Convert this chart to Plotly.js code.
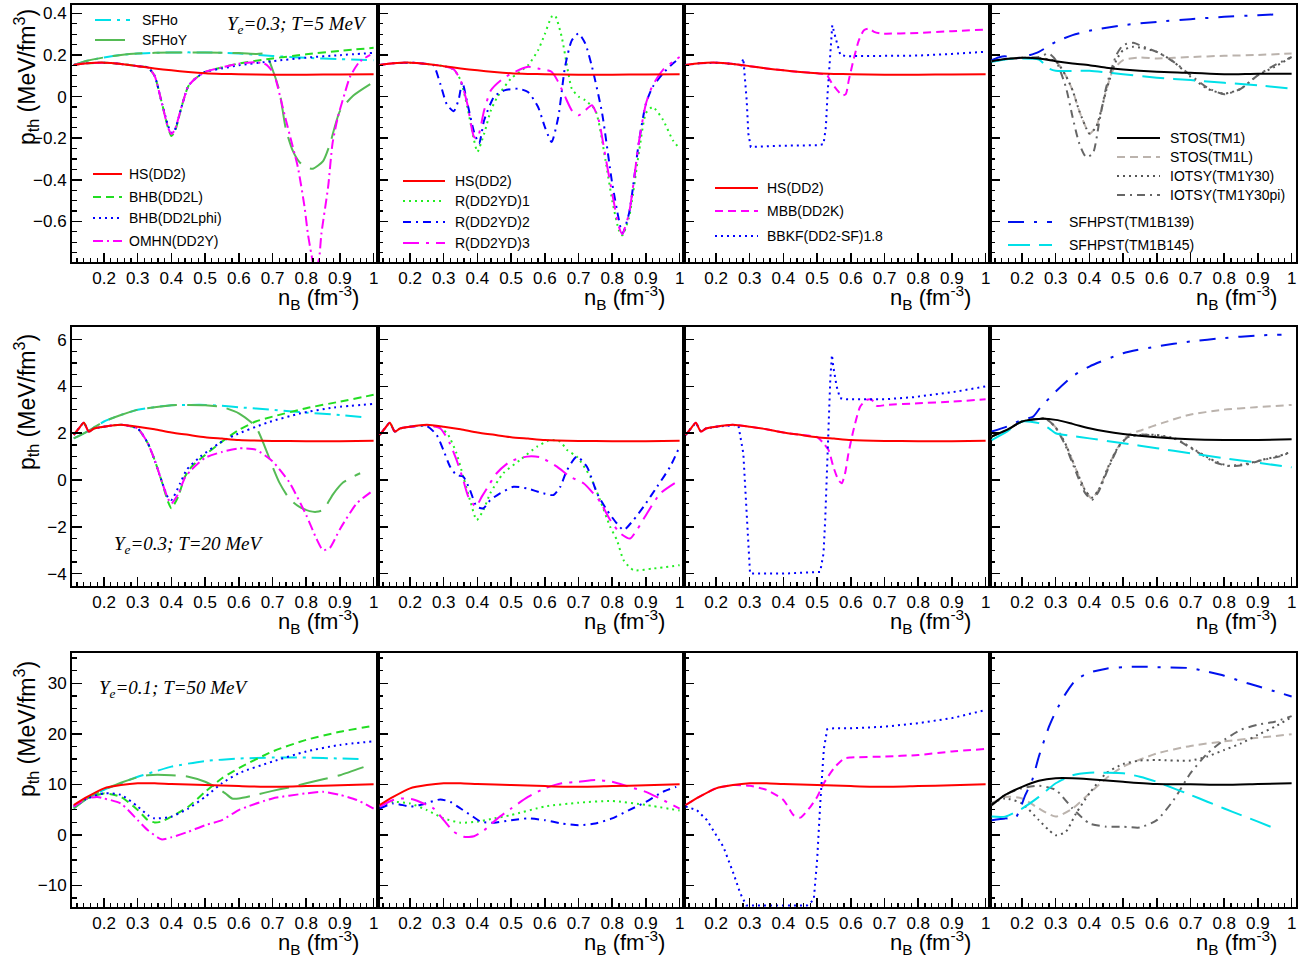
<!DOCTYPE html>
<html><head><meta charset="utf-8">
<script src="https://cdn.plot.ly/plotly-3.0.1.min.js"></script>
<style>html,body{margin:0;padding:0;background:#fff}#chart{width:1302px;height:965px}</style>
</head><body><div id="chart"></div>
<script>
// ================= DATA (nB in fm^-3, p_th in MeV/fm^3) =================
// ---- Row 1: Ye=0.3, T=5 MeV ----
const t5_HS_x = [0.11,0.15,0.2,0.25,0.3,0.35,0.4,0.45,0.5,0.55,0.6,0.7,0.8,0.9,1.0];
const t5_HS_y = [0.152,0.160,0.163,0.157,0.146,0.135,0.126,0.118,0.112,0.109,0.107,0.105,0.105,0.106,0.107];
const t5_BHBL_x = [0.11,0.15,0.2,0.25,0.3,0.33,0.35,0.37,0.39,0.40,0.41,0.43,0.45,0.47,0.5,0.55,0.6,0.7,0.8,0.9,1.0];
const t5_BHBL_y = [0.152,0.160,0.163,0.157,0.146,0.14,0.10,-0.02,-0.15,-0.19,-0.17,-0.05,0.05,0.085,0.118,0.14,0.159,0.183,0.203,0.22,0.234];
const t5_BHBLphi_x = [0.11,0.15,0.2,0.25,0.3,0.33,0.35,0.37,0.39,0.40,0.41,0.43,0.45,0.47,0.5,0.55,0.6,0.7,0.8,0.9,1.0];
const t5_BHBLphi_y = [0.152,0.160,0.163,0.157,0.146,0.14,0.10,-0.02,-0.14,-0.175,-0.16,-0.05,0.05,0.085,0.118,0.135,0.15,0.17,0.187,0.199,0.21];
const t5_OMHN_x = [0.11,0.15,0.2,0.25,0.3,0.33,0.35,0.37,0.39,0.40,0.41,0.43,0.45,0.47,0.5,0.55,0.6,0.65,0.68,0.70,0.71,0.73,0.75,0.775,0.795,0.805,0.815,0.826,0.838,0.845,0.865,0.878,0.894,0.914,0.93,0.958,0.99];
const t5_OMHN_y = [0.152,0.160,0.163,0.157,0.146,0.14,0.10,-0.02,-0.15,-0.18,-0.16,-0.05,0.05,0.085,0.118,0.14,0.158,0.165,0.155,0.12,0.08,-0.05,-0.178,-0.338,-0.53,-0.66,-0.755,-0.84,-0.78,-0.66,-0.434,-0.226,-0.098,0.014,0.095,0.167,0.2];
const t5_SFHo_x = [0.11,0.15,0.2,0.25,0.3,0.4,0.5,0.6,0.7,0.8,0.9,1.0];
const t5_SFHo_y = [0.152,0.172,0.188,0.2,0.207,0.212,0.212,0.207,0.195,0.186,0.18,0.174];
const t5_SFHoY_x = [0.11,0.15,0.2,0.25,0.3,0.4,0.5,0.6,0.65,0.68,0.70,0.72,0.74,0.76,0.78,0.80,0.82,0.85,0.87,0.90,0.94,1.0];
const t5_SFHoY_y = [0.152,0.172,0.188,0.2,0.207,0.212,0.212,0.209,0.205,0.205,0.13,0.03,-0.16,-0.26,-0.315,-0.34,-0.347,-0.31,-0.23,-0.07,0.005,0.07];
const t5_R1_x = [0.11,0.15,0.2,0.25,0.3,0.33,0.35,0.37,0.39,0.40,0.42,0.44,0.46,0.5,0.55,0.58,0.6,0.62,0.63,0.65,0.67,0.68,0.7,0.72,0.75,0.78,0.8,0.82,0.83,0.85,0.88,0.9,0.92,0.95,0.98,1.0];
const t5_R1_y = [0.152,0.160,0.163,0.157,0.146,0.13,0.079,-0.05,-0.21,-0.266,-0.178,-0.066,0,0.087,0.15,0.223,0.30,0.383,0.39,0.287,0.11,0.038,0,-0.018,-0.066,-0.306,-0.5,-0.643,-0.667,-0.58,-0.26,-0.08,-0.05,-0.11,-0.21,-0.25];
const t5_R2_x = [0.11,0.15,0.2,0.25,0.27,0.29,0.31,0.33,0.345,0.355,0.37,0.39,0.405,0.42,0.45,0.48,0.52,0.55,0.58,0.6,0.62,0.64,0.66,0.68,0.7,0.72,0.74,0.77,0.8,0.82,0.83,0.85,0.88,0.9,0.92,0.95,0.98,1.0];
const t5_R2_y = [0.152,0.160,0.163,0.157,0.15,0.06,-0.04,-0.07,-0.01,0.07,-0.03,-0.17,-0.226,-0.114,0,0.03,0.038,0.022,-0.05,-0.146,-0.218,-0.098,0.143,0.27,0.303,0.255,0.143,-0.08,-0.418,-0.594,-0.66,-0.56,-0.21,-0.034,0.046,0.11,0.159,0.183];
const t5_R3_x = [0.11,0.15,0.2,0.25,0.3,0.33,0.35,0.37,0.39,0.40,0.42,0.44,0.47,0.5,0.55,0.58,0.62,0.64,0.66,0.68,0.7,0.72,0.74,0.76,0.78,0.8,0.82,0.83,0.85,0.88,0.9,0.92,0.95,0.98,1.0];
const t5_R3_y = [0.152,0.160,0.163,0.157,0.146,0.13,0.079,-0.034,-0.194,-0.2,-0.066,0.03,0.079,0.11,0.143,0.135,0.119,0.07,0,-0.066,-0.09,-0.066,-0.042,-0.114,-0.29,-0.466,-0.627,-0.66,-0.56,-0.21,-0.034,0.054,0.127,0.167,0.19];
const t5_MBB_x = [0.11,0.15,0.2,0.25,0.3,0.35,0.4,0.45,0.5,0.529,0.544,0.56,0.574,0.585,0.594,0.609,0.624,0.639,0.654,0.669,0.69,0.8,0.9,1.0];
const t5_MBB_y = [0.152,0.160,0.163,0.157,0.146,0.135,0.126,0.118,0.112,0.103,0.063,0.03,0.006,0.012,0.079,0.183,0.271,0.319,0.327,0.311,0.303,0.306,0.314,0.322];
const t5_BBKF_x = [0.11,0.15,0.2,0.25,0.275,0.281,0.291,0.296,0.303,0.35,0.4,0.45,0.5,0.519,0.526,0.531,0.536,0.541,0.545,0.554,0.569,0.589,0.7,0.8,0.9,1.0];
const t5_BBKF_y = [0.152,0.160,0.163,0.157,0.15,0.183,-0.018,-0.178,-0.242,-0.238,-0.236,-0.235,-0.234,-0.229,-0.146,0.014,0.143,0.255,0.343,0.287,0.199,0.194,0.194,0.197,0.205,0.215];
const t5_STOS_x = [0.11,0.15,0.2,0.25,0.3,0.35,0.4,0.45,0.5,0.6,0.7,0.8,0.9,1.0];
const t5_STOS_y = [0.17,0.18,0.186,0.183,0.17,0.159,0.151,0.139,0.13,0.119,0.114,0.107,0.11,0.11];
const t5_STOSL_x = [0.11,0.15,0.2,0.25,0.3,0.33,0.35,0.37,0.39,0.4,0.42,0.45,0.47,0.5,0.55,0.6,0.7,0.8,0.9,1.0];
const t5_STOSL_y = [0.17,0.18,0.186,0.183,0.17,0.1,0.03,-0.07,-0.15,-0.178,-0.146,0.03,0.127,0.175,0.188,0.183,0.19,0.196,0.2,0.207];
const t5_IOTSY_x = [0.11,0.15,0.2,0.25,0.3,0.33,0.35,0.37,0.39,0.4,0.42,0.45,0.48,0.5,0.53,0.55,0.6,0.65,0.7,0.75,0.8,0.85,0.9,0.95,1.0];
const t5_IOTSY_y = [0.17,0.18,0.186,0.185,0.17,0.1,0.03,-0.07,-0.15,-0.178,-0.146,0.03,0.175,0.223,0.239,0.236,0.215,0.167,0.095,0.038,0.014,0.038,0.103,0.143,0.19];
const t5_IOTSYpi_x = [0.11,0.15,0.2,0.25,0.28,0.3,0.33,0.35,0.37,0.39,0.41,0.43,0.45,0.48,0.5,0.53,0.56,0.6,0.65,0.7,0.75,0.8,0.85,0.9,0.95,1.0];
const t5_IOTSYpi_y = [0.17,0.18,0.186,0.19,0.207,0.175,0.046,-0.098,-0.226,-0.29,-0.274,-0.114,0.046,0.2,0.247,0.258,0.239,0.215,0.167,0.103,0.043,0.011,0.038,0.103,0.151,0.19];
const t5_B139_x = [0.11,0.13,0.15,0.17,0.2,0.25,0.3,0.35,0.4,0.5,0.6,0.7,0.8,0.9,0.97];
const t5_B139_y = [0.175,0.188,0.194,0.183,0.188,0.215,0.263,0.295,0.316,0.343,0.359,0.372,0.383,0.391,0.396];
const t5_B145_x = [0.11,0.15,0.2,0.25,0.28,0.3,0.4,0.5,0.6,0.7,0.8,0.9,1.0];
const t5_B145_y = [0.167,0.178,0.183,0.178,0.135,0.124,0.124,0.107,0.091,0.079,0.066,0.054,0.038];

// ---- Row 2: Ye=0.3, T=20 MeV ----
const t20_HS_x = [0.11,0.125,0.14,0.155,0.17,0.2,0.25,0.3,0.35,0.4,0.45,0.5,0.55,0.6,0.7,0.8,0.9,1.0];
const t20_HS_y = [1.93,2.2,2.45,2.07,2.2,2.28,2.36,2.28,2.17,2.03,1.93,1.83,1.77,1.71,1.67,1.66,1.66,1.68];
const t20_BHBL_x = [0.11,0.125,0.14,0.155,0.17,0.2,0.25,0.3,0.33,0.35,0.37,0.39,0.40,0.42,0.44,0.46,0.5,0.55,0.6,0.65,0.7,0.8,0.9,1.0];
const t20_BHBL_y = [1.93,2.2,2.45,2.07,2.2,2.28,2.36,2.2,1.57,0.86,0,-0.93,-1.21,-0.71,0.14,0.57,1.07,1.64,2.14,2.5,2.71,3.07,3.35,3.64];
const t20_BHBLphi_x = [0.11,0.125,0.14,0.155,0.17,0.2,0.25,0.3,0.33,0.35,0.37,0.39,0.40,0.426,0.446,0.486,0.545,0.585,0.684,0.783,0.882,1.0];
const t20_BHBLphi_y = [1.93,2.2,2.45,2.07,2.2,2.28,2.36,2.2,1.57,0.86,0,-0.75,-0.85,-0.14,0.45,1.0,1.6,1.9,2.45,2.85,3.1,3.25];
const t20_OMHN_x = [0.11,0.125,0.14,0.155,0.17,0.2,0.25,0.3,0.33,0.35,0.37,0.39,0.40,0.42,0.44,0.46,0.5,0.55,0.6,0.65,0.7,0.75,0.8,0.83,0.85,0.87,0.9,0.95,1.0];
const t20_OMHN_y = [1.93,2.2,2.45,2.07,2.2,2.28,2.36,2.2,1.57,0.86,0,-0.8,-1.0,-0.6,0.1,0.45,0.95,1.2,1.35,1.3,0.8,-0.1,-1.5,-2.5,-3.0,-2.9,-2.1,-1.0,-0.43];
const t20_SFHo_x = [0.11,0.15,0.2,0.25,0.3,0.35,0.4,0.45,0.5,0.55,0.6,0.7,0.8,0.9,0.97];
const t20_SFHo_y = [1.78,2.07,2.5,2.78,3.0,3.11,3.2,3.21,3.21,3.17,3.11,3.0,2.88,2.78,2.68];
const t20_SFHoY_x = [0.11,0.15,0.2,0.25,0.3,0.35,0.4,0.45,0.5,0.55,0.6,0.65,0.685,0.70,0.72,0.75,0.78,0.81,0.83,0.85,0.88,0.91,0.94,0.96];
const t20_SFHoY_y = [1.78,2.07,2.5,2.78,3.0,3.11,3.2,3.21,3.2,3.12,2.85,2.28,1.14,0.57,-0.1,-0.8,-1.15,-1.33,-1.36,-1.28,-0.6,-0.1,0.15,0.29];
const t20_R1_x = [0.11,0.125,0.14,0.155,0.17,0.2,0.25,0.28,0.31,0.338,0.358,0.378,0.398,0.418,0.438,0.477,0.527,0.577,0.616,0.646,0.666,0.695,0.735,0.764,0.794,0.814,0.834,0.863,0.923,1.0];
const t20_R1_y = [1.93,2.2,2.45,2.07,2.2,2.28,2.34,2.28,2.0,1.14,0.14,-0.86,-1.71,-1.28,-0.57,0.29,0.86,1.43,1.71,1.64,1.28,1.0,0.14,-0.86,-2.0,-2.57,-3.43,-3.85,-3.78,-3.64];
const t20_R2_x = [0.11,0.125,0.14,0.155,0.17,0.2,0.25,0.279,0.299,0.319,0.338,0.358,0.378,0.398,0.418,0.438,0.467,0.507,0.547,0.596,0.626,0.646,0.666,0.695,0.725,0.755,0.784,0.814,0.834,0.863,0.893,0.933,0.972,1.0];
const t20_R2_y = [1.93,2.2,2.45,2.07,2.2,2.28,2.3,1.93,1.28,0.57,0.21,0.14,-0.43,-1.14,-1.21,-0.86,-0.57,-0.29,-0.36,-0.57,-0.64,-0.29,0.43,1.0,0.57,-0.57,-1.28,-1.86,-2.14,-1.71,-1.14,-0.29,0.57,1.43];
const t20_R3_x = [0.11,0.125,0.14,0.155,0.17,0.2,0.25,0.29,0.318,0.338,0.358,0.373,0.395,0.413,0.428,0.457,0.497,0.547,0.586,0.636,0.675,0.715,0.764,0.794,0.824,0.853,0.873,0.903,0.943,1.0];
const t20_R3_y = [1.93,2.2,2.45,2.07,2.2,2.28,2.34,2.2,1.57,0.86,0,-0.71,-1.14,-0.71,-0.36,0.29,0.79,1.0,0.97,0.57,0.14,-0.14,-0.93,-1.71,-2.28,-2.5,-2.14,-1.43,-0.57,0];
const t20_MBB_x = [0.11,0.125,0.14,0.155,0.17,0.2,0.25,0.3,0.35,0.4,0.45,0.5,0.519,0.534,0.548,0.563,0.573,0.583,0.593,0.608,0.628,0.648,0.662,0.677,0.707,0.8,0.9,1.0];
const t20_MBB_y = [1.93,2.2,2.45,2.07,2.2,2.28,2.36,2.28,2.17,2.03,1.93,1.83,1.57,1.28,0.57,0,-0.14,0.29,1.14,2.14,3.14,3.43,3.43,3.17,3.21,3.28,3.35,3.45];
const t20_BBKF_x = [0.11,0.125,0.14,0.155,0.17,0.2,0.25,0.266,0.281,0.286,0.291,0.296,0.301,0.31,0.4,0.509,0.519,0.524,0.529,0.534,0.539,0.544,0.548,0.558,0.568,0.588,0.7,0.786,0.9,1.0];
const t20_BBKF_y = [1.93,2.2,2.45,2.07,2.2,2.28,2.36,2.36,1.14,-0.29,-1.71,-3.14,-4.0,-4.0,-4.0,-3.93,-3.14,-1.71,0.43,2.57,4.28,5.35,4.85,4.0,3.5,3.45,3.45,3.54,3.75,4.0];
const t20_STOS_x = [0.11,0.155,0.2,0.25,0.3,0.35,0.4,0.45,0.5,0.6,0.7,0.8,0.9,1.0];
const t20_STOS_y = [1.86,2.14,2.5,2.61,2.57,2.4,2.21,2.07,1.97,1.83,1.74,1.71,1.71,1.74];
const t20_STOSL_x = [0.11,0.155,0.2,0.25,0.268,0.298,0.328,0.357,0.387,0.407,0.427,0.456,0.486,0.516,0.556,0.615,0.695,0.794,0.893,1.0];
const t20_STOSL_y = [1.86,2.14,2.5,2.61,2.64,2.28,1.57,0.57,-0.43,-0.79,-0.43,0.57,1.43,1.93,2.14,2.43,2.78,3.0,3.11,3.21];
const t20_IOTSY_x = [0.11,0.155,0.2,0.25,0.268,0.298,0.328,0.357,0.387,0.407,0.427,0.456,0.486,0.516,0.556,0.595,0.654,0.714,0.774,0.813,0.863,0.912,0.962,1.0];
const t20_IOTSY_y = [1.86,2.14,2.5,2.61,2.64,2.28,1.57,0.57,-0.43,-0.75,-0.43,0.57,1.43,1.85,1.93,1.93,1.78,1.28,0.79,0.61,0.69,0.86,1.03,1.21];
const t20_IOTSYpi_x = [0.11,0.155,0.2,0.25,0.268,0.298,0.328,0.357,0.387,0.407,0.427,0.456,0.486,0.516,0.556,0.595,0.654,0.714,0.774,0.813,0.863,0.912,0.962,1.0];
const t20_IOTSYpi_y = [1.86,2.14,2.5,2.61,2.64,2.28,1.5,0.45,-0.55,-0.85,-0.5,0.5,1.4,1.85,1.95,1.9,1.75,1.25,0.75,0.6,0.65,0.85,1.0,1.2];
const t20_B139_x = [0.11,0.155,0.2,0.233,0.253,0.3,0.35,0.4,0.5,0.6,0.7,0.8,0.9,0.97];
const t20_B139_y = [2.07,2.28,2.57,2.71,3.07,3.78,4.43,4.85,5.42,5.71,5.92,6.07,6.18,6.21];
const t20_B145_x = [0.11,0.155,0.2,0.25,0.28,0.3,0.35,0.4,0.5,0.6,0.7,0.8,0.9,1.0];
const t20_B145_y = [1.71,2.07,2.5,2.43,2.21,2.0,1.88,1.78,1.57,1.36,1.14,0.93,0.74,0.54];

// ---- Row 3: Ye=0.1, T=50 MeV ----
const t50_HS_x = [0.11,0.15,0.2,0.25,0.3,0.35,0.4,0.5,0.6,0.7,0.8,0.9,1.0];
const t50_HS_y = [5.9,7.5,9.2,9.85,10.2,10.2,10.05,9.85,9.65,9.5,9.65,9.8,10.0];
const t50_BHBL_x = [0.11,0.15,0.2,0.25,0.3,0.33,0.35,0.37,0.4,0.45,0.5,0.55,0.6,0.7,0.8,0.9,1.0];
const t50_BHBL_y = [5.6,7.2,8.2,7.5,4.9,2.9,2.45,2.6,3.6,5.55,8.5,11.2,13.2,16.5,18.8,20.4,21.6];
const t50_BHBLphi_x = [0.11,0.15,0.2,0.25,0.3,0.33,0.35,0.4,0.45,0.5,0.55,0.6,0.7,0.8,0.9,1.0];
const t50_BHBLphi_y = [5.6,7.2,8.2,7.9,5.6,3.9,3.25,3.6,5.2,7.5,10.2,12.2,14.5,16.5,17.8,18.5];
const t50_OMHN_x = [0.11,0.15,0.18,0.2,0.25,0.3,0.33,0.37,0.4,0.45,0.5,0.55,0.6,0.7,0.8,0.85,0.9,0.95,1.0];
const t50_OMHN_y = [5.6,7.2,7.5,7.2,6.2,2.9,0.9,-0.9,-0.5,0.6,1.9,2.9,4.9,7.2,8.2,8.5,7.9,6.9,5.2];
const t50_SFHo_x = [0.11,0.15,0.2,0.25,0.3,0.35,0.4,0.5,0.6,0.7,0.8,0.9,0.97];
const t50_SFHo_y = [5.2,7.2,8.9,10.2,11.5,12.5,13.5,14.6,15.1,15.3,15.3,15.1,15.0];
const t50_SFHoY_x = [0.11,0.15,0.2,0.25,0.3,0.33,0.4,0.45,0.5,0.53,0.56,0.58,0.6,0.65,0.7,0.75,0.8,0.85,0.9,0.97];
const t50_SFHoY_y = [5.2,7.2,8.9,10.3,11.4,11.8,11.8,11.5,10.5,9.5,8.2,7.2,7.2,7.9,8.7,9.4,10.2,11.0,11.8,13.4];
const t50_R1_x = [0.11,0.15,0.2,0.25,0.3,0.35,0.4,0.45,0.5,0.6,0.7,0.8,0.9,1.0];
const t50_R1_y = [5.6,6.5,6.2,4.9,3.25,2.4,2.6,3.25,3.9,5.6,6.35,6.7,5.9,4.8];
const t50_R2_x = [0.11,0.15,0.2,0.23,0.26,0.29,0.32,0.35,0.38,0.41,0.45,0.5,0.55,0.6,0.65,0.7,0.75,0.8,0.85,0.9,0.95,0.99];
const t50_R2_y = [5.2,6.2,5.6,5.9,6.5,7.0,6.5,5.2,3.9,2.6,2.4,2.9,3.25,2.9,2.25,1.9,2.25,3.25,4.9,6.5,8.5,9.5];
const t50_R3_x = [0.11,0.15,0.18,0.21,0.24,0.27,0.3,0.33,0.36,0.39,0.42,0.46,0.5,0.55,0.6,0.65,0.7,0.75,0.8,0.85,0.9,0.95,1.0];
const t50_R3_y = [5.6,6.9,7.2,7.0,6.2,5.2,2.9,0.6,-0.4,-0.3,0.9,3.25,5.2,7.5,9.2,10.2,10.5,10.85,10.5,9.5,8.5,6.9,5.2];
const t50_MBB_x = [0.11,0.15,0.2,0.25,0.3,0.35,0.4,0.43,0.45,0.48,0.5,0.52,0.55,0.58,0.6,0.7,0.8,0.9,1.0];
const t50_MBB_y = [5.9,7.5,9.2,9.85,9.7,8.9,6.9,3.9,3.4,5.55,7.5,10.2,13.2,15.1,15.3,15.5,15.8,16.5,17.0];
const t50_BBKF_x = [0.11,0.143,0.173,0.202,0.222,0.252,0.272,0.29,0.35,0.4,0.45,0.47,0.49,0.5,0.51,0.52,0.53,0.55,0.6,0.7,0.8,0.9,1.0];
const t50_BBKF_y = [5.6,4.9,2.9,-0.4,-2.4,-7.7,-11.6,-14.0,-14.0,-14.0,-14.0,-14.0,-12.9,-5.0,7.0,17.0,20.9,21.1,21.1,21.4,22.1,23.1,24.7];
const t50_STOS_x = [0.11,0.15,0.2,0.25,0.3,0.35,0.4,0.5,0.6,0.7,0.8,0.9,1.0];
const t50_STOS_y = [5.9,7.9,9.5,10.7,11.2,11.2,11.0,10.5,10.05,10.0,9.9,10.05,10.2];
const t50_STOSL_x = [0.11,0.15,0.2,0.25,0.3,0.35,0.4,0.45,0.5,0.6,0.7,0.8,0.9,1.0];
const t50_STOSL_y = [6.2,7.5,7.2,5.2,3.6,5.2,8.2,11.2,13.5,16.1,17.6,18.5,19.2,19.9];
const t50_IOTSY_x = [0.11,0.15,0.2,0.25,0.28,0.3,0.33,0.36,0.4,0.45,0.5,0.55,0.6,0.7,0.75,0.8,0.85,0.9,0.95,1.0];
const t50_IOTSY_y = [6.2,7.2,6.2,2.9,0.9,-0.1,0.6,4.2,8.2,12.2,14.0,14.7,14.8,14.7,15.5,16.8,18.1,19.8,21.4,23.3];
const t50_IOTSYpi_x = [0.11,0.15,0.2,0.25,0.3,0.35,0.4,0.45,0.5,0.55,0.6,0.65,0.7,0.75,0.8,0.85,0.9,0.95,1.0];
const t50_IOTSYpi_y = [5.8,7.9,9.2,9.7,8.9,5.2,2.25,1.6,1.6,1.45,2.9,6.9,12.2,16.1,18.8,20.8,21.8,22.4,23.5];
const t50_B139_x = [0.11,0.15,0.18,0.21,0.23,0.25,0.28,0.3,0.33,0.36,0.4,0.45,0.5,0.55,0.6,0.7,0.75,0.8,0.85,0.9,0.95,1.0];
const t50_B139_y = [2.9,3.25,3.3,7.9,10.8,15.5,21.4,24.4,28.0,30.7,32.1,32.9,33.2,33.3,33.2,33.0,32.3,31.5,30.4,29.4,28.4,27.4];
const t50_B145_x = [0.11,0.15,0.2,0.25,0.3,0.35,0.4,0.45,0.5,0.55,0.6,0.65,0.7,0.75,0.8,0.85,0.9,0.96];
const t50_B145_y = [3.6,3.6,5.2,7.5,10.2,11.8,12.3,12.3,12.2,11.5,10.5,9.2,7.9,6.55,5.2,3.9,2.6,1.0];

// axis ticks / labels
const xTickVals = [0.2,0.3,0.4,0.5,0.6,0.7,0.8,0.9,1.0];
const xTickText = ['0.2','0.3','0.4','0.5','0.6','0.7','0.8','0.9','1'];
const yTickVals = [[-0.6,-0.4,-0.2,0,0.2,0.4],[-4,-2,0,2,4,6],[-10,0,10,20,30]];
const rowLabels = ['Y<sub>e</sub>=0.3; T=5 MeV','Y<sub>e</sub>=0.3; T=20 MeV','Y<sub>e</sub>=0.1; T=50 MeV'];
const modelNames = {HS:'HS(DD2)',BHBL:'BHB(DD2L)',BHBLphi:'BHB(DD2Lphi)',OMHN:'OMHN(DD2Y)',SFHo:'SFHo',SFHoY:'SFHoY',
  R1:'R(DD2YD)1',R2:'R(DD2YD)2',R3:'R(DD2YD)3',MBB:'MBB(DD2K)',BBKF:'BBKF(DD2-SF)1.8',
  STOS:'STOS(TM1)',STOSL:'STOS(TM1L)',IOTSY:'IOTSY(TM1Y30)',IOTSYpi:'IOTSY(TM1Y30pi)',B139:'SFHPST(TM1B139)',B145:'SFHPST(TM1B145)'};

// ================= STYLE / LAYOUT =================
const W = 1302, H = 965;
const COLS = [[72,378],[378,684],[684,990],[990,1296]];
const ROWS = [[5,262],[327,586],[653,907]];
const Y_RANGES = [[-0.795,0.44],[-4.53,6.54],[-14.3,36.0]];
const Y_MINOR = [0.05,0.5,2.5];
const STYLE = {
  HS:{color:'#ff0000',dash:'solid'},
  BHBL:{color:'#22dd22',dash:'8px,5px'},
  BHBLphi:{color:'#0000ff',dash:'2px,4px'},
  OMHN:{color:'#ff00ff',dash:'10px,4px,2px,4px'},
  SFHo:{color:'#00e0e8',dash:'16px,6px,3px,6px'},
  SFHoY:{color:'#55bb55',dash:'30px,10px'},
  R1:{color:'#22ee22',dash:'2px,4px'},
  R2:{color:'#0000ff',dash:'8px,5px,2px,5px'},
  R3:{color:'#ff00ff',dash:'16px,7px,3px,7px'},
  MBB:{color:'#ff00ff',dash:'8px,5px'},
  BBKF:{color:'#0000ff',dash:'2px,4px',linear:true},
  STOS:{color:'#000000',dash:'solid'},
  STOSL:{color:'#bbb3ad',dash:'8px,5px'},
  IOTSY:{color:'#555555',dash:'2px,4px'},
  IOTSYpi:{color:'#666666',dash:'8px,5px,2px,5px'},
  B139:{color:'#0011ee',dash:'16px,10px,3px,10px'},
  B145:{color:'#00e0e8',dash:'22px,9px'}
};

const panels = [
  [['SFHo',t5_SFHo_x,t5_SFHo_y],['SFHoY',t5_SFHoY_x,t5_SFHoY_y],['BHBL',t5_BHBL_x,t5_BHBL_y],['BHBLphi',t5_BHBLphi_x,t5_BHBLphi_y],['OMHN',t5_OMHN_x,t5_OMHN_y],['HS',t5_HS_x,t5_HS_y]],
  [['R1',t5_R1_x,t5_R1_y],['R2',t5_R2_x,t5_R2_y],['R3',t5_R3_x,t5_R3_y],['HS',t5_HS_x,t5_HS_y]],
  [['MBB',t5_MBB_x,t5_MBB_y],['BBKF',t5_BBKF_x,t5_BBKF_y],['HS',t5_HS_x,t5_HS_y]],
  [['STOSL',t5_STOSL_x,t5_STOSL_y],['IOTSY',t5_IOTSY_x,t5_IOTSY_y],['IOTSYpi',t5_IOTSYpi_x,t5_IOTSYpi_y],['B139',t5_B139_x,t5_B139_y],['B145',t5_B145_x,t5_B145_y],['STOS',t5_STOS_x,t5_STOS_y]],
  [['SFHo',t20_SFHo_x,t20_SFHo_y],['SFHoY',t20_SFHoY_x,t20_SFHoY_y],['BHBL',t20_BHBL_x,t20_BHBL_y],['BHBLphi',t20_BHBLphi_x,t20_BHBLphi_y],['OMHN',t20_OMHN_x,t20_OMHN_y],['HS',t20_HS_x,t20_HS_y]],
  [['R1',t20_R1_x,t20_R1_y],['R2',t20_R2_x,t20_R2_y],['R3',t20_R3_x,t20_R3_y],['HS',t20_HS_x,t20_HS_y]],
  [['MBB',t20_MBB_x,t20_MBB_y],['BBKF',t20_BBKF_x,t20_BBKF_y],['HS',t20_HS_x,t20_HS_y]],
  [['STOSL',t20_STOSL_x,t20_STOSL_y],['IOTSY',t20_IOTSY_x,t20_IOTSY_y],['IOTSYpi',t20_IOTSYpi_x,t20_IOTSYpi_y],['B139',t20_B139_x,t20_B139_y],['B145',t20_B145_x,t20_B145_y],['STOS',t20_STOS_x,t20_STOS_y]],
  [['SFHo',t50_SFHo_x,t50_SFHo_y],['SFHoY',t50_SFHoY_x,t50_SFHoY_y],['BHBL',t50_BHBL_x,t50_BHBL_y],['BHBLphi',t50_BHBLphi_x,t50_BHBLphi_y],['OMHN',t50_OMHN_x,t50_OMHN_y],['HS',t50_HS_x,t50_HS_y]],
  [['R1',t50_R1_x,t50_R1_y],['R2',t50_R2_x,t50_R2_y],['R3',t50_R3_x,t50_R3_y],['HS',t50_HS_x,t50_HS_y]],
  [['MBB',t50_MBB_x,t50_MBB_y],['BBKF',t50_BBKF_x,t50_BBKF_y],['HS',t50_HS_x,t50_HS_y]],
  [['STOSL',t50_STOSL_x,t50_STOSL_y],['IOTSY',t50_IOTSY_x,t50_IOTSY_y],['IOTSYpi',t50_IOTSYpi_x,t50_IOTSYpi_y],['B139',t50_B139_x,t50_B139_y],['B145',t50_B145_x,t50_B145_y],['STOS',t50_STOS_x,t50_STOS_y]]
];

const LEGENDS = [
  {x0:95,x1:130,xt:140,items:[['SFHo',20],['SFHoY',40]]},
  {x0:93,x1:122,xt:127,items:[['HS',174],['BHBL',197],['BHBLphi',218],['OMHN',241]]},
  {x0:403,x1:445,xt:453,items:[['HS',181],['R1',201],['R2',222],['R3',243]]},
  {x0:715,x1:758,xt:765,items:[['HS',188],['MBB',211],['BBKF',236]]},
  {x0:1117,x1:1160,xt:1168,items:[['STOS',138],['STOSL',157],['IOTSY',176],['IOTSYpi',195]]},
  {x0:1008,x1:1052,xt:1067,items:[['B139',222],['B145',245]]}
];

const FONT = 'Liberation Sans, Arial, sans-serif';
const fx = p => p / W, fy = p => 1 - p / H;
const traces = [];
const layout = {width:W,height:H,margin:{l:0,r:0,t:0,b:0},showlegend:false,
  paper_bgcolor:'#fff',plot_bgcolor:'#fff',font:{family:FONT,color:'#000'},annotations:[],shapes:[]};

for (let r = 0; r < 3; r++) {
  for (let c = 0; c < 4; c++) {
    const n = r*4 + c + 1, s = n > 1 ? String(n) : '';
    layout['xaxis'+s] = {domain:[fx(COLS[c][0]), fx(COLS[c][1])], anchor:'y'+s, range:[0.105,1.013],
      tickmode:'array', tickvals:xTickVals, ticktext:xTickText, ticks:'inside', ticklen:9, tickwidth:1.5, tickcolor:'#000',
      showline:true, linecolor:'#000', linewidth:2, mirror:true, showgrid:false, zeroline:false,
      tickfont:{family:FONT,size:17,color:'#000'}, ticklabelstandoff:0,
      minor:{ticks:'inside', ticklen:4.5, tickwidth:1.2, tickcolor:'#000', dtick:0.02, tick0:0, showgrid:false}, fixedrange:true};
    layout['yaxis'+s] = {domain:[fy(ROWS[r][1]), fy(ROWS[r][0])], anchor:'x'+s, range:Y_RANGES[r],
      tickmode:'array', tickvals:yTickVals[r], ticks:'inside', ticklen:10, tickwidth:1.5, tickcolor:'#000',
      showticklabels:c===0, showline:true, linecolor:'#000', linewidth:2, mirror:true, showgrid:false, zeroline:false,
      tickfont:{family:FONT,size:17,color:'#000'}, ticklabelstandoff:0,
      minor:{ticks:'inside', ticklen:5, tickwidth:1.2, tickcolor:'#000', dtick:Y_MINOR[r], tick0:0, showgrid:false}, fixedrange:true};
    for (const [key, xs, ys] of panels[n-1]) {
      const st = STYLE[key];
      traces.push({type:'scatter', mode:'lines', x:xs, y:ys, name:modelNames[key], xaxis:'x'+s, yaxis:'y'+s,
        line:{color:st.color, width:2, dash:st.dash, shape: st.linear ? 'linear' : 'spline', smoothing:0.6}, hoverinfo:'x+y+name'});
    }
    layout.annotations.push({xref:'paper',yref:'paper',x:fx(COLS[c][0]+289),y:fy(ROWS[r][1]+35),xanchor:'right',yanchor:'middle',
      text:'n<sub>B</sub> (fm<sup>-3</sup>)',showarrow:false,font:{family:FONT,size:22,color:'#000'}});
  }
  const yc = [77,402,729][r];
  layout.annotations.push({xref:'paper',yref:'paper',x:fx(26),y:fy(yc),xanchor:'center',yanchor:'middle',textangle:-90,
    text:'p<sub>th</sub> (MeV/fm<sup>3</sup>)',showarrow:false,font:{family:FONT,size:23,color:'#000'}});
}
// row labels
const SERIF = 'Liberation Serif, Times New Roman, serif';
layout.annotations.push({xref:'paper',yref:'paper',x:fx(369),y:fy(25),xanchor:'right',yanchor:'middle',text:'<i>'+rowLabels[0]+'</i>',showarrow:false,font:{family:SERIF,size:19,color:'#000'}});
layout.annotations.push({xref:'paper',yref:'paper',x:fx(112),y:fy(545),xanchor:'left',yanchor:'middle',text:'<i>'+rowLabels[1]+'</i>',showarrow:false,font:{family:SERIF,size:19,color:'#000'}});
layout.annotations.push({xref:'paper',yref:'paper',x:fx(97),y:fy(689),xanchor:'left',yanchor:'middle',text:'<i>'+rowLabels[2]+'</i>',showarrow:false,font:{family:SERIF,size:19,color:'#000'}});

// legends
for (const lg of LEGENDS) {
  for (const [key, y] of lg.items) {
    const st = STYLE[key];
    layout.shapes.push({type:'line',xref:'paper',yref:'paper',x0:fx(lg.x0),x1:fx(lg.x1),y0:fy(y),y1:fy(y),line:{color:st.color,width:2,dash:st.dash}});
    layout.annotations.push({xref:'paper',yref:'paper',x:fx(lg.xt),y:fy(y),xanchor:'left',yanchor:'middle',text:modelNames[key],showarrow:false,font:{family:FONT,size:14,color:'#000'}});
  }
}

Plotly.newPlot('chart', traces, layout, {staticPlot:true, displayModeBar:false});
</script></body></html>
